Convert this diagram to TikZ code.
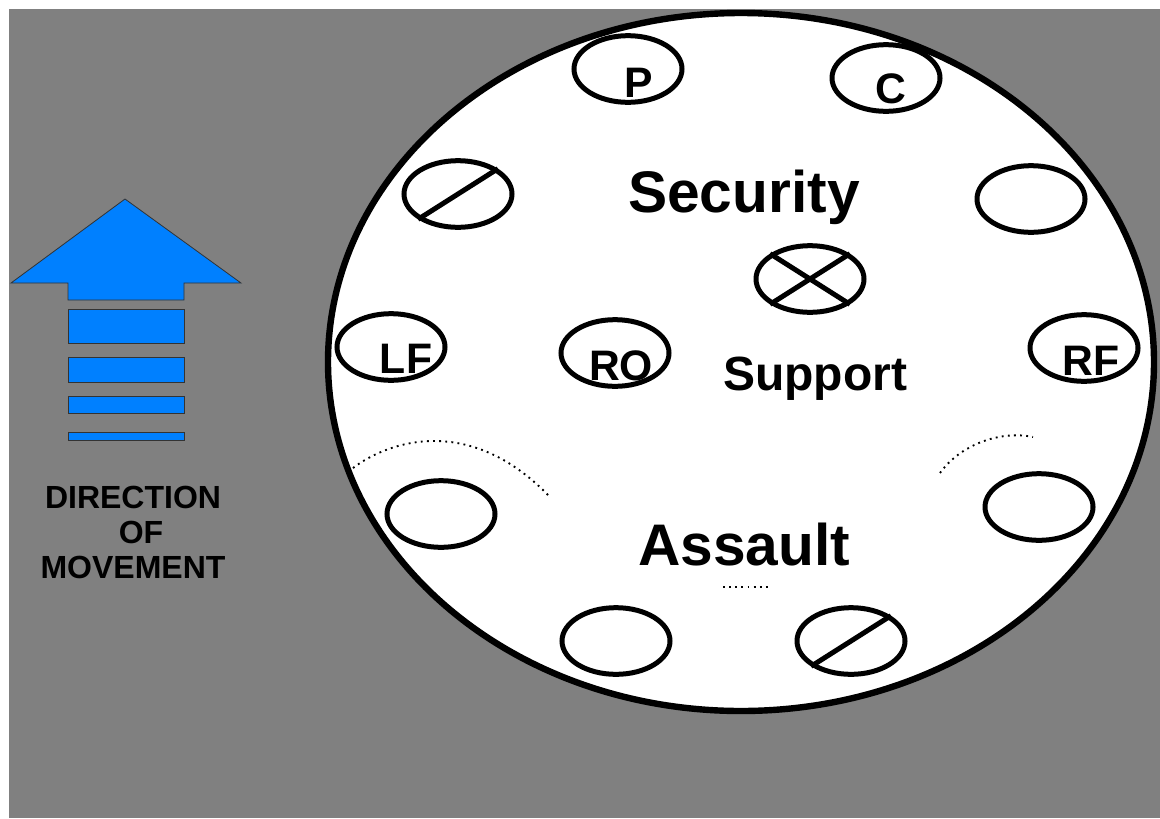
\documentclass[tikz,border=0pt]{standalone}
\usepackage{fontspec}
\setmainfont{Liberation Sans}
\usetikzlibrary{shapes.geometric}
\definecolor{bggray}{RGB}{128,128,128}
\definecolor{moveblue}{RGB}{0,128,255}
\tikzset{
  oval/.style={draw,ellipse,line width=3.75pt,minimum width=81pt,minimum height=50pt,inner sep=0pt},
  ovalline/.style={line width=3.75pt},
  bigtext/.style={font=\bfseries\fontsize{44}{48}\selectfont,anchor=base},
  midtext/.style={font=\bfseries\fontsize{36}{40}\selectfont,anchor=base},
  tag/.style={font=\bfseries\fontsize{32}{36}\selectfont,anchor=base,inner sep=0pt},
  trail/.style={line width=1.4pt,dash pattern=on 1.4pt off 3.2pt}
}
\begin{document}
\begin{tikzpicture}[x=0.75pt,y=-0.75pt]
  % background
  \fill[white] (0,0) rectangle (1160,818);
  \fill[bggray] (9,9) rectangle (1160,818);
  % direction arrow
  \draw[fill=moveblue,draw=black!80,line width=0.6pt] (125,199)--(241,283)--(184,283)--(184,300)--(68,300)--(68,283)--(11,283)--cycle;
  \draw[fill=moveblue,draw=black!80,line width=0.6pt] (68,309) rectangle (184,343);
  \draw[fill=moveblue,draw=black!80,line width=0.6pt] (68,357) rectangle (184,382);
  \draw[fill=moveblue,draw=black!80,line width=0.6pt] (68,396) rectangle (184,413);
  \draw[fill=moveblue,draw=black!80,line width=0.6pt] (68,432) rectangle (184,440);
  \node[font=\bfseries\fontsize{24}{26}\selectfont,align=center,anchor=base] (dir) at (133,578) {DIRECTION\\\hspace*{0.5em}OF\\MOVEMENT};
  % perimeter
  \draw[line width=4.8pt,fill=white] (741,362) ellipse [x radius=309.75pt, y radius=261.75pt];
  % ovals
  \node[oval] (p) at (628,69) {};
  \node[oval] (c) at (886,78) {};
  \node[oval] (tl) at (458,194) {};
  \node[oval] (tr) at (1031,199) {};
  \node[oval] (x) at (810,279) {};
  \node[oval] (lf) at (391,347) {};
  \node[oval] (ro) at (615,353) {};
  \node[oval] (rf) at (1084,348) {};
  \node[oval] (bl) at (441,514) {};
  \node[oval] (br) at (1039,507) {};
  \node[oval] (ll) at (616,641) {};
  \node[oval] (lr) at (851,641) {};
  \draw[ovalline] (tl.south west)--(tl.north east);
  \draw[ovalline] (lr.south west)--(lr.north east);
  \draw[ovalline] (x.north west)--(x.south east);
  \draw[ovalline] (x.north east)--(x.south west);
  % labels
  \node[tag] (ptext) at (639,97) {P};
  \node[tag] (ctext) at (891,103) {C};
  \node[tag] (lftext) at (406,373) {LF};
  \node[tag] (rotext) at (621,380) {RO};
  \node[tag] (rftext) at (1091,375) {RF};
  \node[bigtext] (sec) at (744,212) {Security};
  \node[midtext] (sup) at (815,390) {Support};
  \node[bigtext] (asl) at (744,565) {Assault};
  % dotted trails
  \draw[trail] (353,468) .. controls (390,440) and (470,415) .. (548,495);
  \draw[trail] (940,473) .. controls (960,445) and (1000,430) .. (1033,437);
  \draw[trail] (723,587) -- (770,587);
\end{tikzpicture}
\end{document}
